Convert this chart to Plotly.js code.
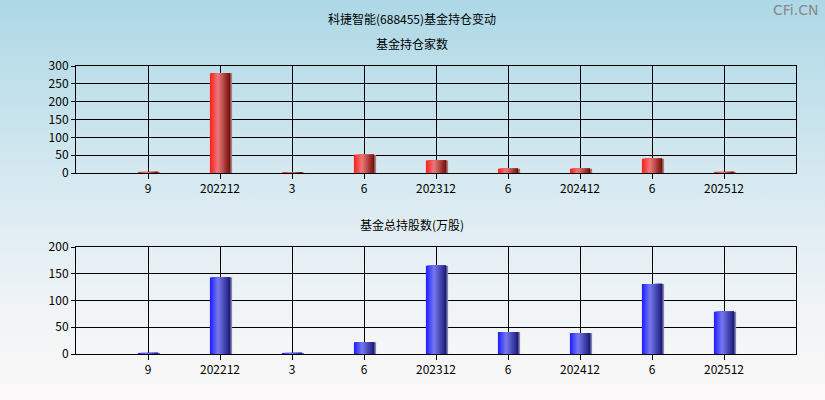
<!DOCTYPE html>
<html>
<head>
<meta charset="utf-8">
<script src="https://cdn.plot.ly/plotly-3.0.1.min.js"></script>
<style>
html,body{margin:0;padding:0;}
body{width:825px;height:400px;background:linear-gradient(to bottom,#add8e6 0%,#d6e9f0 45%,#eef3f6 75%,#fbf8f8 100%);}
#chart{width:825px;height:400px;}
</style>
</head>
<body>
<div id="chart"></div>
<script>
// ---- data ----
var tickLabels = ["9","202212","3","6","202312","6","202412","6","202512"];
var fundCount = [3, 280, 2, 51, 35, 12, 12, 40, 3];
var fundShares = [2, 143, 2, 22, 165, 41, 39, 131, 79];
var mainTitle = "科捷智能(688455)基金持仓变动";
var topTitle = "基金持仓家数";
var bottomTitle = "基金总持股数(万股)";

var positions = tickLabels.map(function(_, i){ return i + 1; });

function hex(c){ return [parseInt(c.slice(1,3),16),parseInt(c.slice(3,5),16),parseInt(c.slice(5,7),16)]; }
function mix(a,b,t){ a=hex(a); b=hex(b); return 'rgb('+a.map(function(v,k){return Math.round(v+(b[k]-v)*t);}).join(',')+')'; }
function gradColor(stops, t){
  for (var i=0;i<stops.length-1;i++){
    if (t<=stops[i+1][0]) return mix(stops[i][1],stops[i+1][1],(t-stops[i][0])/(stops[i+1][0]-stops[i][0]));
  }
  return stops[stops.length-1][1];
}
var redStops = [[0,'#ff1c1c'],[0.4,'#e97a7a'],[1,'#780c0c']];
var blueStops = [[0,'#1c1cff'],[0.4,'#7878f0'],[1,'#1a1a7a']];

var BW = 0.28, N = 20, SW = BW/N;
var traces = [];
function addBars(values, stops, xa, ya){
  traces.push({type:'bar', x:positions, y:values, width:0.028, offset:BW/2, marker:{color:'#8a8a8a', line:{width:0}}, xaxis:xa, yaxis:ya, hoverinfo:'skip'});
  for (var i=0;i<N;i++){
    traces.push({type:'bar', x:positions, y:values, width:BW - i*SW, offset:-BW/2 + i*SW,
      marker:{color:gradColor(stops,(i+0.5)/N), line:{width:0}}, xaxis:xa, yaxis:ya, hoverinfo:'skip'});
  }
}
addBars(fundCount, redStops, 'x', 'y');
addBars(fundShares, blueStops, 'x2', 'y2');

var font = {family:'"Noto Sans CJK SC", "DejaVu Sans", sans-serif', size:12, color:'#000'};
var xd = [76/825, 796/825];
function xAxis(anchor){
  return {domain:xd, range:[0,10], anchor:anchor, tickmode:'array', tickvals:positions, ticktext:tickLabels,
    showgrid:true, gridcolor:'#000', gridwidth:1, ticks:'outside', ticklen:5, tickcolor:'#000',
    showline:true, linecolor:'#000', linewidth:1, mirror:true, zeroline:false, tickfont:font, fixedrange:true};
}
function yAxis(anchor, dom, range, dtick){
  return {domain:dom, range:range, anchor:anchor, dtick:dtick, showgrid:true, gridcolor:'#000', gridwidth:1,
    ticks:'outside', ticklen:4, tickcolor:'#000', showline:true, linecolor:'#000', linewidth:1, mirror:true,
    zeroline:false, tickfont:font, fixedrange:true};
}

var layout = {
  width:825, height:400, margin:{l:0,r:0,t:0,b:0},
  paper_bgcolor:'rgba(0,0,0,0)', plot_bgcolor:'rgba(0,0,0,0)',
  barmode:'overlay', showlegend:false, font:font,
  xaxis: xAxis('y'),
  yaxis: yAxis('x', [1-173/400, 1-66/400], [0,300], 50),
  xaxis2: xAxis('y2'),
  yaxis2: yAxis('x2', [1-354/400, 1-247/400], [0,200], 50),
  annotations:[
    {text:mainTitle, xref:'paper', yref:'paper', x:412/825, y:1-18/400, xanchor:'center', yanchor:'middle', showarrow:false, font:font},
    {text:topTitle, xref:'paper', yref:'paper', x:412/825, y:1-43/400, xanchor:'center', yanchor:'middle', showarrow:false, font:font},
    {text:bottomTitle, xref:'paper', yref:'paper', x:412/825, y:1-224/400, xanchor:'center', yanchor:'middle', showarrow:false, font:font},
    {text:'CFi.CN', xref:'paper', yref:'paper', x:820/825, y:1-10/400, xanchor:'right', yanchor:'middle', showarrow:false,
     font:{family:'"DejaVu Sans", sans-serif', size:14, color:'#888'}}
  ]
};
Plotly.newPlot('chart', traces, layout, {staticPlot:true, displayModeBar:false});
</script>
</body>
</html>
